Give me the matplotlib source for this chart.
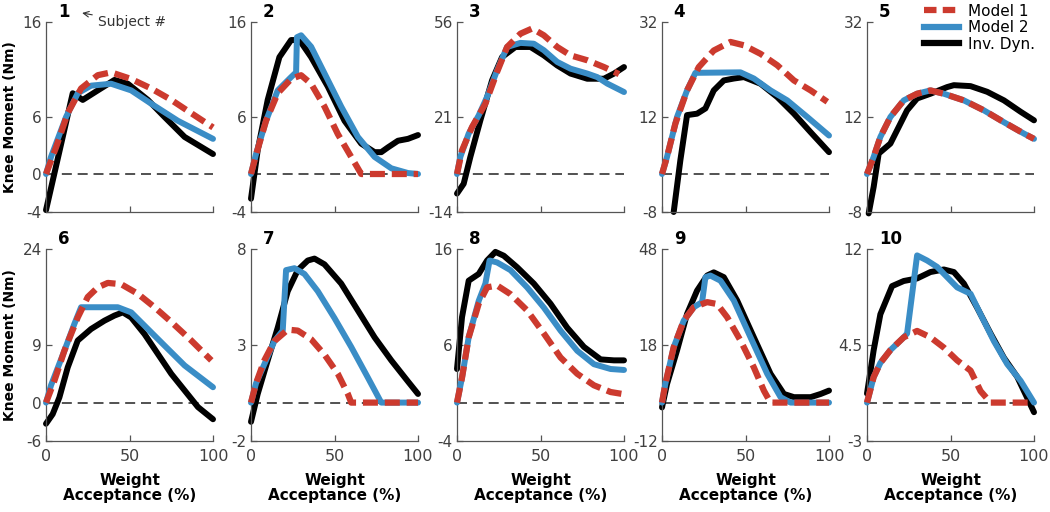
import matplotlib
matplotlib.use("Agg")
import matplotlib.pyplot as plt
from matplotlib.lines import Line2D

plt.rcParams['font.family'] = 'DejaVu Sans'
plt.rcParams['axes.unicode_minus'] = False

# y-axis top per subject (axis runs from -0.25*top to top)
y_top = [16, 16, 56, 32, 32, 24, 8, 16, 48, 12]

# subject 1
s1_id_x = [0, 16, 22, 31, 41, 49, 61, 71, 83, 100]
s1_id_y = [-3.8, 8.5, 7.8, 8.8, 9.9, 9.5, 7.8, 6.0, 3.9, 2.1]
s1_m2_x = [0, 3, 12, 19, 27, 39, 51, 63, 79, 100]
s1_m2_y = [0, 1.8, 6.0, 8.5, 9.3, 9.5, 8.8, 7.4, 5.6, 3.7]
s1_m1_x = [0, 6, 13, 21, 31, 39, 51, 63, 75, 87, 100]
s1_m1_y = [0, 2.8, 6.4, 9.0, 10.4, 10.7, 10.0, 9.0, 7.8, 6.4, 4.9]

# subject 2
s2_id_x = [0, 4, 10, 17, 24, 29, 36, 46, 56, 66, 74, 78, 82, 88, 94, 100]
s2_id_y = [-2.6, 2.5, 7.8, 12.3, 14.1, 14.1, 12.3, 9.2, 5.6, 3.2, 2.3, 2.3, 2.8, 3.5, 3.7, 4.1]
s2_m2_x = [0, 3, 9, 16, 24, 27, 27.5, 30, 36, 44, 54, 64, 74, 84, 94, 100]
s2_m2_y = [0, 2.1, 5.6, 8.8, 10.2, 10.7, 14.4, 14.6, 13.4, 10.6, 7.1, 3.9, 1.8, 0.6, 0.1, 0]
s2_m1_x = [0, 3, 9, 16, 24, 30, 36, 44, 52, 60, 66, 100]
s2_m1_y = [0, 2.0, 5.6, 8.5, 10.0, 10.4, 9.5, 7.1, 4.2, 1.8, 0, 0]

# subject 3
s3_id_x = [0, 4, 8, 14, 21, 27, 35, 44, 52, 60, 68, 78, 88, 94, 100]
s3_id_y = [-7.2, -3.6, 6.3, 19.8, 34.5, 43.1, 46.8, 46.8, 43.7, 40.0, 37.0, 35.1, 35.1, 37.0, 39.4]
s3_m2_x = [0, 2, 7, 13, 18, 24, 30, 38, 46, 52, 60, 68, 78, 84, 90, 100]
s3_m2_y = [0, 6.3, 14.9, 21.6, 28.4, 38.2, 46.8, 48.3, 48.0, 45.6, 41.3, 38.8, 37.0, 35.7, 33.3, 30.2]
s3_m1_x = [0, 3, 9, 17, 24, 30, 38, 45, 52, 60, 68, 78, 88, 97]
s3_m1_y = [0, 8.7, 17.3, 25.9, 37.6, 46.8, 51.7, 53.6, 51.1, 46.8, 43.7, 41.9, 39.4, 36.8]

# subject 4
s4_id_x = [7, 11, 15, 21, 26, 31, 37, 43, 49, 59, 69, 79, 89, 100]
s4_id_y = [-8.0, 2.9, 12.4, 12.7, 13.8, 17.6, 19.7, 20.1, 20.4, 19.0, 16.2, 12.7, 8.8, 4.6]
s4_m2_x = [0, 3, 9, 15, 20, 47, 55, 65, 75, 87, 100]
s4_m2_y = [0, 3.6, 12.0, 17.6, 21.3, 21.4, 20.1, 17.6, 15.5, 12.0, 8.1]
s4_m1_x = [0, 3, 8, 15, 22, 31, 41, 49, 59, 69, 79, 89, 99]
s4_m1_y = [0, 3.6, 10.6, 17.6, 22.5, 26.0, 27.8, 27.1, 25.3, 22.9, 19.7, 17.6, 15.2]

# subject 5
s5_id_x = [1, 4, 7, 14, 19, 24, 30, 38, 48, 52, 62, 72, 82, 92, 100]
s5_id_y = [-8.3, -2.7, 4.3, 6.4, 9.9, 13.4, 15.9, 16.9, 18.3, 18.7, 18.5, 17.3, 15.5, 13.1, 11.3]
s5_m2_x = [0, 4, 8, 14, 22, 30, 38, 46, 58, 70, 82, 94, 100]
s5_m2_y = [0, 3.6, 7.8, 12.0, 15.5, 16.9, 17.6, 16.9, 15.5, 13.4, 10.9, 8.5, 7.4]
s5_m1_x = [0, 4, 8, 14, 22, 30, 38, 46, 58, 70, 82, 94, 100]
s5_m1_y = [0, 3.6, 7.8, 12.0, 15.5, 16.9, 17.6, 16.9, 15.5, 13.4, 10.9, 8.5, 7.4]

# subject 6
s6_id_x = [0, 4, 8, 13, 19, 27, 35, 41, 46, 51, 59, 67, 75, 83, 91, 100]
s6_id_y = [-3.3, -1.8, 0.8, 5.5, 9.7, 11.5, 12.8, 13.6, 14.1, 13.3, 10.7, 7.6, 4.5, 1.9, -0.7, -2.6]
s6_m2_x = [0, 3, 11, 17, 21, 43, 51, 61, 71, 83, 100]
s6_m2_y = [0, 2.7, 8.1, 12.3, 14.9, 14.9, 14.1, 11.5, 8.9, 5.8, 2.4]
s6_m1_x = [0, 5, 11, 19, 25, 31, 37, 45, 55, 65, 75, 87, 99]
s6_m1_y = [0, 3.4, 8.1, 13.3, 16.5, 18.0, 18.7, 18.5, 17.0, 14.9, 12.6, 9.7, 6.6]

# subject 7
s7_id_x = [0, 4, 10, 16, 22, 28, 34, 38, 44, 54, 64, 74, 84, 94, 100]
s7_id_y = [-1.0, 0.45, 2.2, 3.9, 5.8, 6.9, 7.4, 7.5, 7.2, 6.2, 4.8, 3.4, 2.2, 1.1, 0.45]
s7_m2_x = [0, 3, 8, 14, 19, 21, 26, 32, 40, 50, 60, 70, 78, 100]
s7_m2_y = [0, 1.0, 2.0, 3.2, 3.75, 6.9, 7.0, 6.7, 5.8, 4.4, 2.9, 1.3, 0, 0]
s7_m1_x = [0, 3, 8, 14, 22, 28, 36, 44, 52, 58, 60, 100]
s7_m1_y = [0, 1.0, 2.2, 3.2, 3.8, 3.75, 3.3, 2.5, 1.5, 0.45, 0, 0]

# subject 8
s8_id_x = [0, 3, 7, 13, 18, 23, 28, 36, 46, 56, 66, 76, 86, 94, 100]
s8_id_y = [3.5, 8.9, 12.7, 13.4, 14.8, 15.7, 15.3, 14.1, 12.4, 10.3, 7.8, 5.8, 4.5, 4.4, 4.4]
s8_m2_x = [0, 3, 7, 13, 17, 19.5, 24, 32, 42, 52, 62, 72, 82, 92, 100]
s8_m2_y = [0, 2.6, 6.8, 10.6, 12.4, 14.8, 14.6, 13.8, 12.0, 9.9, 7.5, 5.4, 4.0, 3.5, 3.4]
s8_m1_x = [0, 3, 7, 13, 18, 24, 32, 42, 52, 62, 72, 82, 92, 99]
s8_m1_y = [0, 2.6, 6.8, 10.3, 12.0, 12.2, 11.3, 9.6, 7.2, 4.7, 3.0, 1.8, 1.1, 0.9]

# subject 9
s9_id_x = [0, 3, 9, 15, 21, 27, 31, 37, 45, 55, 65, 73, 79, 89, 95, 100]
s9_id_y = [-1.5, 5.8, 16.3, 27.7, 35.0, 39.7, 40.7, 39.2, 31.9, 20.4, 9.0, 2.7, 1.7, 1.7, 2.7, 3.75]
s9_m2_x = [0, 2, 7, 13, 19, 24, 26, 29, 35, 43, 53, 63, 71, 77, 100]
s9_m2_y = [0, 5.8, 17.3, 25.6, 29.8, 31.4, 39.2, 39.7, 38.1, 31.9, 20.4, 9.0, 1.7, 0, 0]
s9_m1_x = [0, 2, 7, 13, 19, 27, 33, 39, 47, 55, 61, 65, 100]
s9_m1_y = [0, 5.8, 17.3, 25.6, 29.8, 31.4, 30.8, 26.7, 19.4, 11.0, 3.75, 0, 0]

# subject 10
s10_id_x = [0, 4, 8, 15, 22, 30, 38, 46, 52, 58, 66, 74, 82, 90, 100]
s10_id_y = [0.7, 4.1, 6.9, 9.1, 9.5, 9.7, 10.2, 10.4, 10.2, 9.3, 7.4, 5.4, 3.5, 2.0, -0.75]
s10_m2_x = [0, 4, 8, 14, 22, 24, 30, 36, 42, 48, 54, 62, 68, 76, 84, 92, 100]
s10_m2_y = [0, 2.0, 3.1, 4.1, 5.1, 5.4, 11.5, 11.1, 10.6, 9.8, 9.0, 8.5, 6.9, 4.8, 3.0, 1.7, 0]
s10_m1_x = [0, 4, 8, 14, 22, 30, 38, 46, 54, 62, 68, 74, 100]
s10_m1_y = [0, 2.0, 3.1, 4.1, 5.1, 5.6, 5.1, 4.3, 3.3, 2.5, 0.9, 0, 0]

subjects = [
    (s1_id_x, s1_id_y, s1_m2_x, s1_m2_y, s1_m1_x, s1_m1_y),
    (s2_id_x, s2_id_y, s2_m2_x, s2_m2_y, s2_m1_x, s2_m1_y),
    (s3_id_x, s3_id_y, s3_m2_x, s3_m2_y, s3_m1_x, s3_m1_y),
    (s4_id_x, s4_id_y, s4_m2_x, s4_m2_y, s4_m1_x, s4_m1_y),
    (s5_id_x, s5_id_y, s5_m2_x, s5_m2_y, s5_m1_x, s5_m1_y),
    (s6_id_x, s6_id_y, s6_m2_x, s6_m2_y, s6_m1_x, s6_m1_y),
    (s7_id_x, s7_id_y, s7_m2_x, s7_m2_y, s7_m1_x, s7_m1_y),
    (s8_id_x, s8_id_y, s8_m2_x, s8_m2_y, s8_m1_x, s8_m1_y),
    (s9_id_x, s9_id_y, s9_m2_x, s9_m2_y, s9_m1_x, s9_m1_y),
    (s10_id_x, s10_id_y, s10_m2_x, s10_m2_y, s10_m1_x, s10_m1_y),
]

RED = '#CC3A2E'
BLUE = '#3A8DC6'
BLACK = '#000000'
AXC = '#404040'

fig = plt.figure(figsize=(10.5, 5.12), dpi=100)

col_left = [46, 251, 457, 662, 867]
row_top = [22, 249]
row_h = [190, 192]
ax_w = 167

for i, (idx, idy, m2x, m2y, m1x, m1y) in enumerate(subjects):
    r, c = divmod(i, 5)
    ax = fig.add_axes([col_left[c] / 1050, 1 - (row_top[r] + row_h[r]) / 512,
                       ax_w / 1050, row_h[r] / 512])
    top = y_top[i]
    ax.axhline(0, color='#333333', lw=1.2, dashes=(6, 3.5), zorder=1)
    ax.plot(idx, idy, color=BLACK, lw=4.3, solid_joinstyle='round',
            solid_capstyle='round', clip_on=False, zorder=2)
    ax.plot(m2x, m2y, color=BLUE, lw=4.3, solid_joinstyle='round',
            solid_capstyle='round', clip_on=False, zorder=3)
    ax.plot(m1x, m1y, color=RED, lw=4.5, dashes=(2.4, 1.1), clip_on=False, zorder=4)

    ax.set_xlim(0, 100)
    ax.set_ylim(-0.25 * top, top)
    yt = [-0.25 * top, 0.375 * top, top]
    if c == 0:
        yt = [-0.25 * top, 0, 0.375 * top, top]
    ax.set_yticks(yt)
    ax.set_yticklabels([f'{v:g}' for v in yt])
    ax.set_xticks([0, 50, 100])

    for s in ['top', 'right']:
        ax.spines[s].set_visible(False)
    for s in ['left', 'bottom']:
        ax.spines[s].set_color('#555555')
        ax.spines[s].set_linewidth(0.9)
    ax.tick_params(direction='in', length=4, color='#555555', width=0.9)
    ax.tick_params(axis='y', labelsize=11, labelcolor=AXC, pad=3)
    ax.tick_params(axis='x', labelsize=11.5, labelcolor=AXC, pad=6)
    if r == 0:
        ax.tick_params(axis='x', labelbottom=False)
    else:
        ax.set_xlabel('Weight\nAcceptance (%)', fontsize=11, fontweight='bold',
                      linespacing=1.0, labelpad=6)
    if c == 0:
        ax.set_ylabel('Knee Moment (Nm)', fontsize=10, fontweight='bold', labelpad=4)

    ax.text(0.07, 1.005, str(i + 1), transform=ax.transAxes, fontsize=12,
            fontweight='bold', ha='left', va='bottom')

    if i == 0:
        ax.annotate('Subject #', xy=(0.2, 1.05), xytext=(0.31, 1.0),
                    xycoords='axes fraction', textcoords='axes fraction',
                    fontsize=10, color='#333333', ha='left', va='center',
                    arrowprops=dict(arrowstyle='->', color='#333333', lw=0.8))

handles = [
    Line2D([], [], color=RED, lw=4.5, dashes=(2.0, 1.0)),
    Line2D([], [], color=BLUE, lw=4.5),
    Line2D([], [], color=BLACK, lw=4.5),
]
fig.legend(handles, ['Model 1', 'Model 2', 'Inv. Dyn.'], loc='upper left',
           bbox_to_anchor=(918 / 1050, 1.005), frameon=False, fontsize=11,
           handlelength=2.3, handletextpad=0.6, labelspacing=0.1, borderaxespad=0)

fig.savefig('out.png', dpi=100)
